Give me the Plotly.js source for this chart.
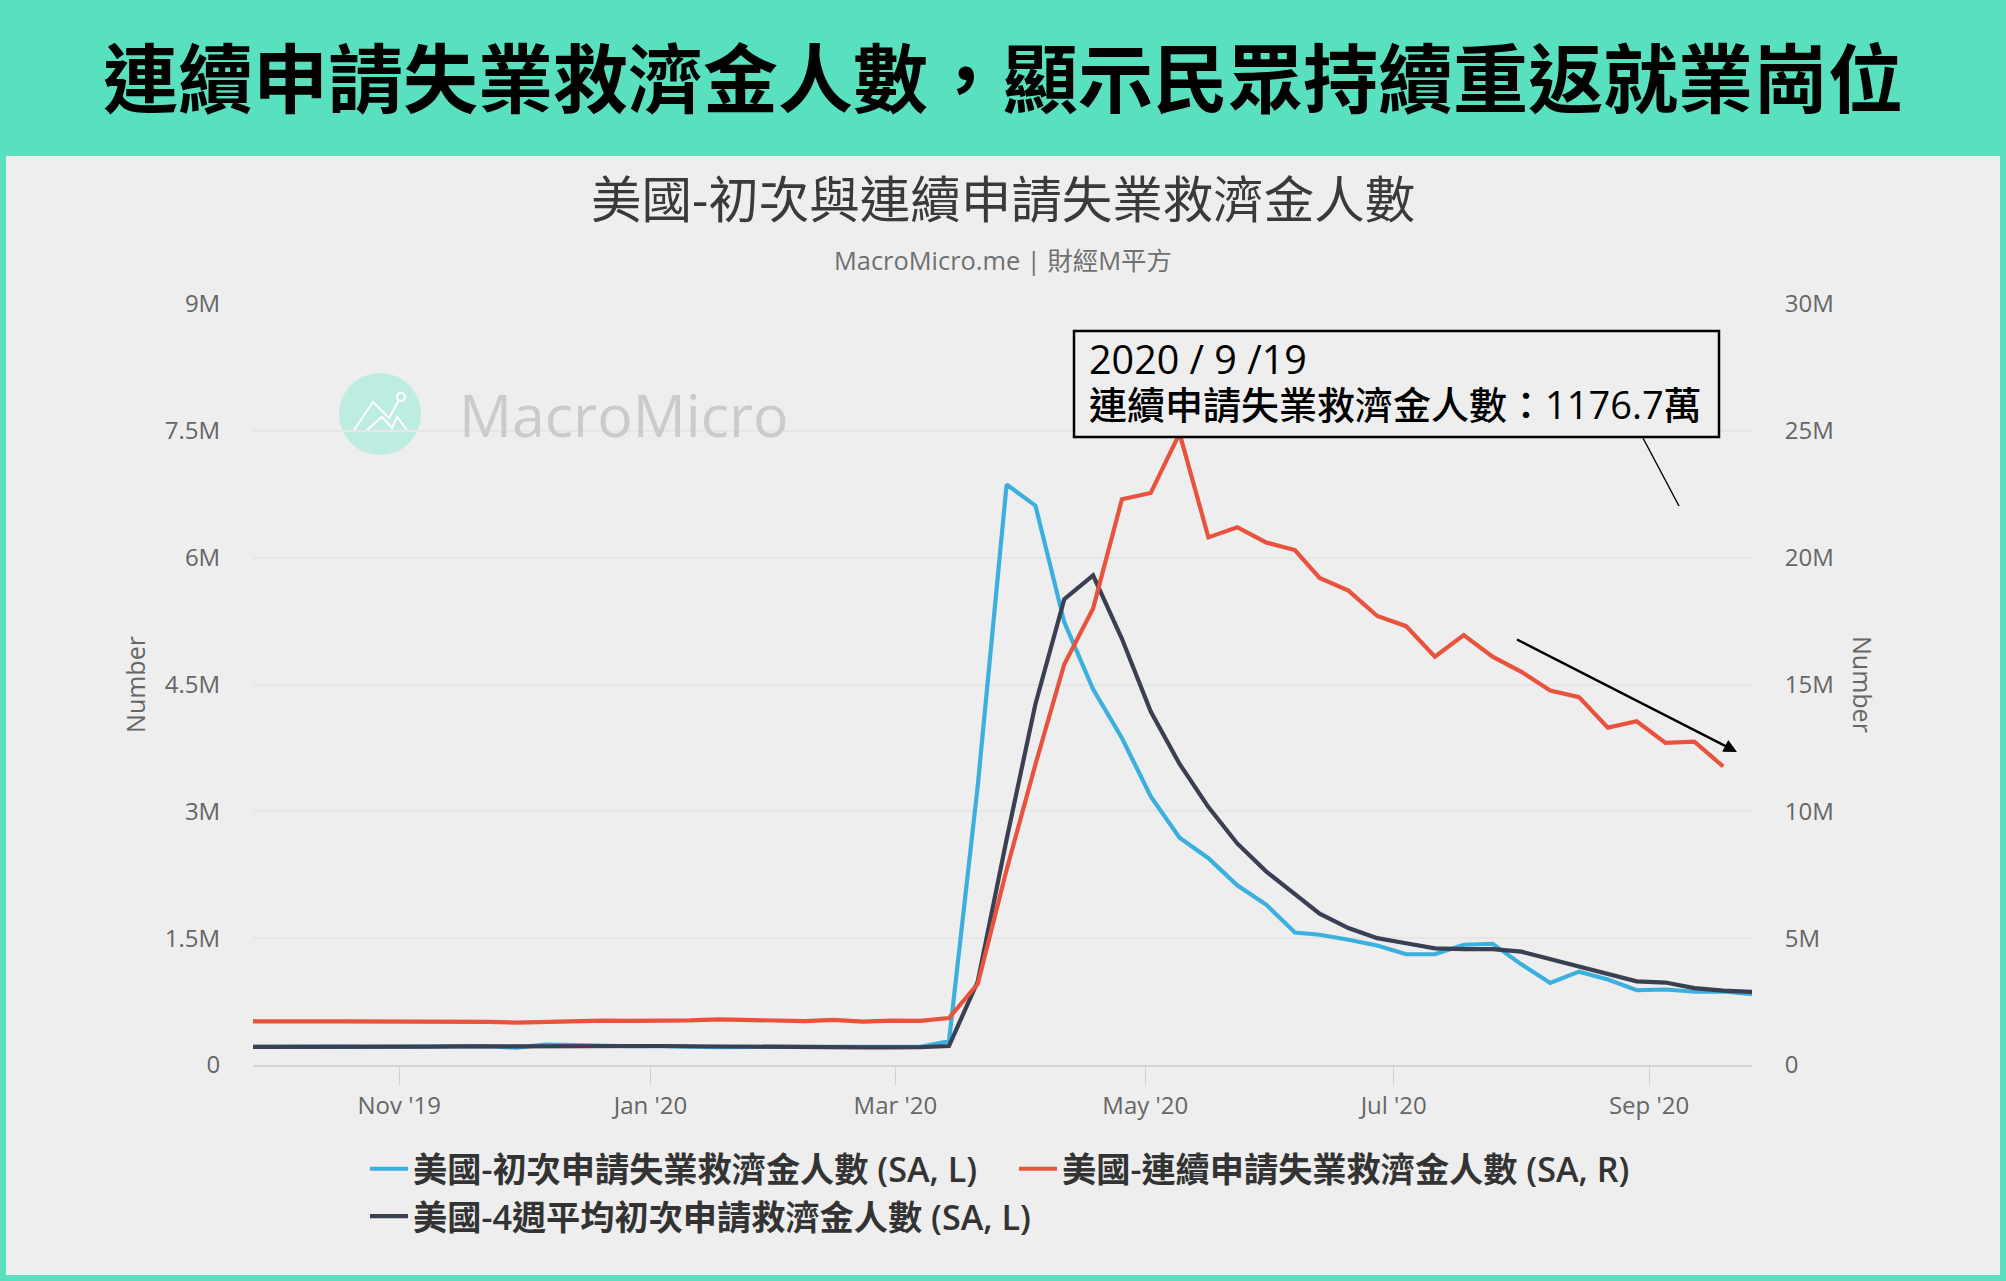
<!DOCTYPE html>
<html><head><meta charset="utf-8">
<script src="https://cdn.plot.ly/plotly-3.0.1.min.js"></script>
<style>html,body{margin:0;padding:0;background:#58E0BF}#c{width:2006px;height:1281px}</style>
</head><body><div id="c"></div>
<script>
const dates = ["2019-09-28","2019-10-05","2019-10-12","2019-10-19","2019-10-26","2019-11-03","2019-11-10","2019-11-17","2019-11-24","2019-12-01","2019-12-08","2019-12-15","2019-12-22","2019-12-29","2020-01-05","2020-01-12","2020-01-19","2020-01-26","2020-02-02","2020-02-09","2020-02-16","2020-02-23","2020-03-01","2020-03-08","2020-03-15","2020-03-22","2020-03-29","2020-04-05","2020-04-12","2020-04-19","2020-04-26","2020-05-03","2020-05-10","2020-05-17","2020-05-24","2020-05-31","2020-06-07","2020-06-13","2020-06-20","2020-06-27","2020-07-04","2020-07-11","2020-07-18","2020-07-25","2020-08-01","2020-08-08","2020-08-15","2020-08-22","2020-08-29","2020-09-05","2020-09-12","2020-09-19","2020-09-26"];
const initialClaims = [0.215,0.212,0.218,0.218,0.216,0.218,0.222,0.225,0.222,0.205,0.24,0.235,0.225,0.222,0.222,0.215,0.21,0.215,0.215,0.208,0.208,0.205,0.212,0.215,0.28,3.307,6.867,6.615,5.237,4.442,3.867,3.176,2.687,2.446,2.126,1.897,1.566,1.54,1.482,1.413,1.31,1.31,1.422,1.434,1.19,0.971,1.104,1.011,0.884,0.893,0.866,0.87,0.837];
const continuingClaims = [1.72,1.70,1.72,1.72,1.72,1.72,1.73,1.72,1.70,1.67,1.71,1.72,1.75,1.74,1.74,1.76,1.80,1.78,1.76,1.73,1.78,1.71,1.75,1.74,1.85,3.2,7.7,11.85,15.8,18.0,22.3,22.55,24.9,20.8,21.2,20.6,20.3,19.2,18.7,17.7,17.3,16.1,16.95,16.1,15.5,14.76,14.5,13.3,13.55,12.7,12.75,11.767];
const fourWeekAvg = [0.215,0.214,0.215,0.216,0.216,0.217,0.218,0.22,0.222,0.219,0.222,0.225,0.225,0.222,0.225,0.222,0.218,0.215,0.213,0.212,0.21,0.208,0.208,0.21,0.225,0.99,2.67,4.27,5.51,5.79,5.04,4.18,3.56,3.05,2.62,2.29,2.02,1.79,1.62,1.50,1.44,1.38,1.37,1.37,1.34,1.25,1.17,1.07,0.99,0.975,0.91,0.88,0.865];
const leftTickVals = [0,1.5,3,4.5,6,7.5,9];
const leftTickText = ["0","1.5M","3M","4.5M","6M","7.5M","9M"];
const rightTickVals = [0,5,10,15,20,25,30];
const rightTickText = ["0","5M","10M","15M","20M","25M","30M"];
const monthTickVals = ["2019-11-02 12:00","2020-01-02 12:00","2020-03-02","2020-05-01 16:00","2020-07-01","2020-09-01"];
const monthTickText = ["Nov '19","Jan '20","Mar '20","May '20","Jul '20","Sep '20"];
const seriesNames = ["美國-初次申請失業救濟金人數 (SA, L)","美國-連續申請失業救濟金人數 (SA, R)","美國-4週平均初次申請救濟金人數 (SA, L)"];
const headline = "連續申請失業救濟金人數，顯示民眾持續重返就業崗位";
const chartTitle = "美國-初次與連續申請失業救濟金人數";
const chartSubtitle = "MacroMicro.me | 財經M平方";
const noteDate = "2020 / 9 /19";
const noteText = "連續申請失業救濟金人數：1176.7萬";

const W=2006,H=1281,L=253,R=1752,T=304,B=1065;
const fx=x=>(x-L)/(R-L), fy=y=>(B-y)/(B-T);
const CJK='"Open Sans","Noto Sans CJK TC",sans-serif';
const tick={family:CJK,size:24,color:'#666666'};
const rect=(x0,y0,x1,y1,o)=>Object.assign({type:'rect',xref:'paper',yref:'paper',x0:fx(x0),x1:fx(x1),y0:fy(y0),y1:fy(y1),line:{width:0}},o);
const poly=(pts,o)=>Object.assign({type:'path',xref:'paper',yref:'paper',path:pts.map((p,i)=>(i?'L':'M')+fx(p[0])+','+fy(p[1])).join(' ')},o);
const note=(x,y,text,size,color,o)=>Object.assign({xref:'paper',yref:'paper',x:fx(x),y:fy(y),text:text,showarrow:false,xanchor:'center',yanchor:'middle',font:{family:CJK,size:size,color:color}},o);

const traces=[
 {name:seriesNames[0],x:dates,y:initialClaims.map(v=>v*1e6),yaxis:'y',type:'scatter',mode:'lines',line:{color:'#3BB0DE',width:4.2}},
 {name:seriesNames[1],x:dates,y:continuingClaims.map(v=>v*1e6),yaxis:'y2',type:'scatter',mode:'lines',line:{color:'#E9533D',width:4.2}},
 {name:seriesNames[2],x:dates,y:fourWeekAvg.map(v=>v*1e6),yaxis:'y',type:'scatter',mode:'lines',line:{color:'#3A3F51',width:4.2}}
];
const layout={
 width:W,height:H,paper_bgcolor:'#58E0BF',plot_bgcolor:'rgba(0,0,0,0)',
 margin:{l:L,r:W-R,t:T,b:H-B,pad:0},
 xaxis:{type:'date',range:["2019-09-28","2020-09-26"],tickvals:monthTickVals,ticktext:monthTickText,ticks:'outside',ticklen:18,tickwidth:1.3,tickcolor:'#cfcfcf',showgrid:false,zeroline:false,showline:true,linecolor:'#d4d4d4',linewidth:2,tickfont:tick},
 yaxis:{range:[0,9e6],tickvals:leftTickVals.map(v=>v*1e6),ticktext:leftTickText,ticks:'outside',ticklen:27,tickcolor:'rgba(0,0,0,0)',gridcolor:'#E6E6E6',gridwidth:1.5,zeroline:false,tickfont:tick,title:{text:'Number',font:{family:CJK,size:25,color:'#666666'},standoff:12}},
 yaxis2:{range:[0,30e6],overlaying:'y',side:'right',tickvals:rightTickVals.map(v=>v*1e6),ticktext:rightTickText,ticks:'outside',ticklen:27,tickcolor:'rgba(0,0,0,0)',showgrid:false,zeroline:false,tickfont:tick},
 showlegend:true,
 legend:{orientation:'h',x:fx(365),y:fy(1140),xanchor:'left',yanchor:'top',bgcolor:'rgba(0,0,0,0)',itemwidth:38,entrywidth:596,entrywidthmode:'pixels',font:{family:CJK,size:34.2,color:'#333333',weight:600},traceorder:'normal'},
 shapes:[
  rect(6,156,2000,1275,{fillcolor:'#EEEEEE',layer:'below'}),
  {type:'circle',xref:'paper',yref:'paper',x0:fx(339),x1:fx(421),y0:fy(373),y1:fy(455),fillcolor:'#BDECE0',line:{width:0},layer:'below'},
  poly([[354,430],[373,402],[389,418],[400,398]],{line:{color:'#FFFFFF',width:2},layer:'below'}),
  poly([[367,430],[382,417],[392,428],[397,417],[407,430]],{line:{color:'#FFFFFF',width:2},layer:'below'}),
  {type:'circle',xref:'paper',yref:'paper',x0:fx(397),x1:fx(405),y0:fy(393),y1:fy(401),fillcolor:'#BDECE0',line:{color:'#FFFFFF',width:2},layer:'below'},
  rect(1074,331,1719,437,{fillcolor:'#EEEEEE',line:{color:'#000000',width:2.5},layer:'above'}),
  poly([[1643,438],[1679,506]],{line:{color:'#000000',width:1.4},layer:'above'})
 ],
 annotations:[
  note(1003,78,headline,75,'#000000',{font:{family:CJK,size:75,color:'#000000',weight:700}}),
  note(1003,198,chartTitle,50.5,'#3a3a3a'),
  note(1003,260,chartSubtitle,25.4,'#707070'),
  note(457,414,'MacroMicro',59,'#CBCBCB',{xanchor:'left'}),
  note(1087,359,noteDate,39.5,'#000000',{xanchor:'left'}),
  note(1087,404,noteText,38,'#000000',{xanchor:'left',font:{family:CJK,size:38,color:'#000000',weight:500}}),
  note(1863,684,'Number',25,'#666666',{textangle:90}),
  {xref:'paper',yref:'paper',x:fx(1737),y:fy(752),axref:'pixel',ayref:'pixel',ax:1514-1737,ay:638-752,text:' ',showarrow:true,arrowhead:2,arrowsize:1.1,arrowwidth:2.4,arrowcolor:'#000000'}
 ]
};
Plotly.newPlot('c',traces,layout,{displayModeBar:false,responsive:false});
</script></body></html>
